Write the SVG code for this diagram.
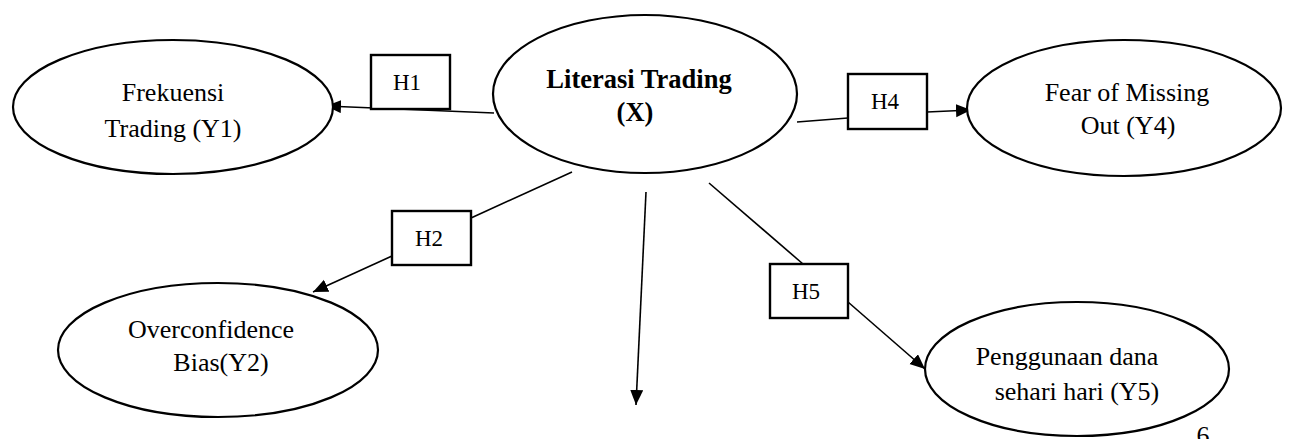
<svg xmlns="http://www.w3.org/2000/svg" width="1293" height="439" viewBox="0 0 1293 439">
<style>
.node ellipse{fill:#fff;stroke:#000;stroke-width:2.2}
.lbl rect{fill:#fff;stroke:#000;stroke-width:2.4}
text{fill:#000;text-anchor:middle}
.t{font-size:26px}
.b{font-size:26.5px;font-weight:bold}
.h{font-size:23px}
.conn line{stroke:#000;stroke-width:1.6;fill:none}
</style>
<defs>
<marker id="arr" markerUnits="userSpaceOnUse" markerWidth="16" markerHeight="14" refX="15" refY="6.5" orient="auto">
<path d="M0,0 L15,6.5 L0,13 z" fill="#000"/>
</marker>
</defs>
<g class="conn" id="connectors">
<line x1="494" y1="113" x2="326" y2="106" marker-end="url(#arr)"/>
<line x1="797" y1="122" x2="848" y2="118"/>
<line x1="927" y1="112" x2="971" y2="110" marker-end="url(#arr)"/>
<line x1="572" y1="172" x2="471" y2="218"/>
<line x1="392" y1="256" x2="313" y2="292" marker-end="url(#arr)"/>
<line x1="646" y1="192" x2="636" y2="405" marker-end="url(#arr)"/>
<line x1="709" y1="183" x2="803" y2="264"/>
<line x1="848" y1="302" x2="925" y2="369" marker-end="url(#arr)"/>
</g>
<g font-family="'Liberation Serif', 'Times New Roman', Tinos, 'DejaVu Serif', serif">
<g class="node" id="x">
<ellipse cx="645" cy="94" rx="152" ry="79"/>
<text class="b" x="639" y="88">Literasi Trading</text>
<text class="b" x="635" y="121">(X)</text>
</g>
<g class="node" id="y1">
<ellipse cx="173" cy="107" rx="160" ry="67"/>
<text class="t" x="173" y="101">Frekuensi</text>
<text class="t" x="173" y="137">Trading (Y1)</text>
</g>
<g class="node" id="y4">
<ellipse cx="1124" cy="108" rx="157" ry="68"/>
<text class="t" x="1127" y="101">Fear of Missing</text>
<text class="t" x="1128" y="134">Out (Y4)</text>
</g>
<g class="node" id="y2">
<ellipse cx="218" cy="350" rx="160" ry="67"/>
<text class="t" x="211" y="338">Overconfidence</text>
<text class="t" x="221" y="371">Bias(Y2)</text>
</g>
<g class="node" id="y5">
<ellipse cx="1077" cy="369" rx="152" ry="67"/>
<text class="t" x="1067" y="365">Penggunaan dana</text>
<text class="t" x="1077" y="400">sehari hari (Y5)</text>
</g>
<g class="lbl" id="h1">
<rect x="371" y="55" width="79" height="54"/>
<text class="h" x="407" y="90">H1</text>
</g>
<g class="lbl" id="h4">
<rect x="848" y="74" width="79" height="55"/>
<text class="h" x="885" y="109">H4</text>
</g>
<g class="lbl" id="h2">
<rect x="392" y="211" width="79" height="54"/>
<text class="h" x="429" y="246">H2</text>
</g>
<g class="lbl" id="h5">
<rect x="770" y="264" width="78" height="54"/>
<text class="h" x="806" y="299">H5</text>
</g>
<text class="t" x="1203" y="444">6</text>
</g>
</svg>
